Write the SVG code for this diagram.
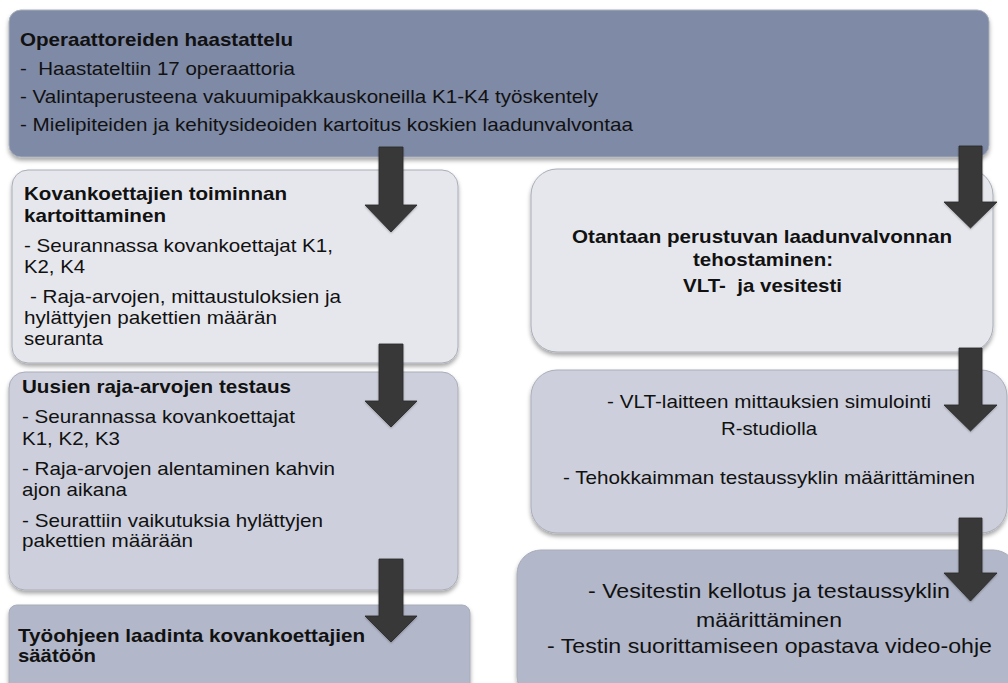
<svg xmlns="http://www.w3.org/2000/svg" width="1008" height="683" viewBox="0 0 1008 683">
<defs>
<filter id="sh" x="-5%" y="-5%" width="110%" height="120%">
<feDropShadow dx="0" dy="3" stdDeviation="2" flood-color="#000" flood-opacity="0.35"/>
</filter>
<filter id="ash" x="-30%" y="-10%" width="160%" height="130%">
<feDropShadow dx="0" dy="1" stdDeviation="1" flood-color="#000" flood-opacity="0.3"/>
</filter>
</defs>
<style>
text{font-family:"Liberation Sans",Arial,sans-serif;fill:#111;white-space:pre}
.t{font-size:19px}
.b{font-weight:bold;font-size:19px}
.big{font-size:21px}
.box{filter:url(#sh);stroke:#a9adb8;stroke-width:1}
.arr{fill:#383838;stroke:#2a2a2a;stroke-width:0.8;filter:url(#ash)}
</style>
<rect width="1008" height="683" fill="#fff"/>

<g id="n-top">
<rect class="box" x="9" y="10" width="980" height="147" rx="12" fill="#7f8aa6" stroke="#6f7894"/>
<text class="b" x="20" y="46" textLength="273" lengthAdjust="spacingAndGlyphs">Operaattoreiden haastattelu</text>
<text class="t" x="20" y="75" textLength="275" lengthAdjust="spacingAndGlyphs">-  Haastateltiin 17 operaattoria</text>
<text class="t" x="20" y="103" textLength="578" lengthAdjust="spacingAndGlyphs">- Valintaperusteena vakuumipakkauskoneilla K1-K4 työskentely</text>
<text class="t" x="20" y="131" textLength="613" lengthAdjust="spacingAndGlyphs">- Mielipiteiden ja kehitysideoiden kartoitus koskien laadunvalvontaa</text>
</g>

<g id="n-l1">
<rect class="box" x="12" y="170" width="446" height="193" rx="16" fill="#e6e7ed"/>
<text class="b" x="24" y="200" textLength="263" lengthAdjust="spacingAndGlyphs">Kovankoettajien toiminnan</text>
<text class="b" x="24" y="222" textLength="142" lengthAdjust="spacingAndGlyphs">kartoittaminen</text>
<text class="t" x="24" y="252" textLength="309" lengthAdjust="spacingAndGlyphs">- Seurannassa kovankoettajat K1,</text>
<text class="t" x="24" y="273" textLength="61" lengthAdjust="spacingAndGlyphs">K2, K4</text>
<text class="t" x="30" y="303" textLength="311" lengthAdjust="spacingAndGlyphs">- Raja-arvojen, mittaustuloksien ja</text>
<text class="t" x="24" y="324" textLength="253" lengthAdjust="spacingAndGlyphs">hylättyjen pakettien määrän</text>
<text class="t" x="24" y="345" textLength="79" lengthAdjust="spacingAndGlyphs">seuranta</text>
</g>

<g id="n-l2">
<rect class="box" x="9" y="372" width="449" height="218" rx="16" fill="#cdd0dc"/>
<text class="b" x="22" y="393" textLength="269" lengthAdjust="spacingAndGlyphs">Uusien raja-arvojen testaus</text>
<text class="t" x="22" y="423" textLength="273" lengthAdjust="spacingAndGlyphs">- Seurannassa kovankoettajat</text>
<text class="t" x="22" y="445" textLength="98" lengthAdjust="spacingAndGlyphs">K1, K2, K3</text>
<text class="t" x="22" y="475" textLength="313" lengthAdjust="spacingAndGlyphs">- Raja-arvojen alentaminen kahvin</text>
<text class="t" x="22" y="496" textLength="105" lengthAdjust="spacingAndGlyphs">ajon aikana</text>
<text class="t" x="22" y="527" textLength="301" lengthAdjust="spacingAndGlyphs">- Seurattiin vaikutuksia hylättyjen</text>
<text class="t" x="22" y="547" textLength="171" lengthAdjust="spacingAndGlyphs">pakettien määrään</text>
</g>

<g id="n-l3">
<rect class="box" x="9" y="605" width="461" height="100" rx="8" fill="#b2b7c9"/>
<text class="b" x="18" y="642" textLength="347" lengthAdjust="spacingAndGlyphs">Työohjeen laadinta kovankoettajien</text>
<text class="b" x="18" y="662" textLength="78" lengthAdjust="spacingAndGlyphs">säätöön</text>
</g>

<g id="n-r1">
<rect class="box" x="531" y="169" width="462" height="183" rx="26" fill="#e6e7ed"/>
<text class="b" x="572" y="243" textLength="380" lengthAdjust="spacingAndGlyphs">Otantaan perustuvan laadunvalvonnan</text>
<text class="b" x="693" y="266" textLength="140" lengthAdjust="spacingAndGlyphs">tehostaminen:</text>
<text class="b" x="683" y="292" textLength="159" lengthAdjust="spacingAndGlyphs">VLT-  ja vesitesti</text>
</g>

<g id="n-r2">
<rect class="box" x="531" y="370" width="476" height="163" rx="26" fill="#cdd0dc"/>
<text class="t" x="607" y="408" textLength="324" lengthAdjust="spacingAndGlyphs">- VLT-laitteen mittauksien simulointi</text>
<text class="t" x="721" y="435" textLength="96" lengthAdjust="spacingAndGlyphs">R-studiolla</text>
<text class="t" x="563" y="484" textLength="412" lengthAdjust="spacingAndGlyphs">- Tehokkaimman testaussyklin määrittäminen</text>
</g>

<g id="n-r3">
<rect class="box" x="517" y="550" width="500" height="150" rx="24" fill="#b2b7c9"/>
<text class="big" x="588" y="598" textLength="362" lengthAdjust="spacingAndGlyphs">- Vesitestin kellotus ja testaussyklin</text>
<text class="big" x="696" y="627" textLength="146" lengthAdjust="spacingAndGlyphs">määrittäminen</text>
<text class="big" x="547" y="653" textLength="445" lengthAdjust="spacingAndGlyphs">- Testin suorittamiseen opastava video-ohje</text>
</g>

<g id="connectors">
<polygon class="arr" points="379,147 403,147 403,205 417,205 391,232 365,205 379,205"/>
<polygon class="arr" points="379,344 403,344 403,401 417,401 391,427 365,401 379,401"/>
<polygon class="arr" points="379,559 403,559 403,616 417,616 391,642 365,616 379,616"/>
<polygon class="arr" points="959,146 982,146 982,202 997,202 970.5,228 944,202 959,202"/>
<polygon class="arr" points="959,348 982,348 982,405 997,405 970.5,431 944,405 959,405"/>
<polygon class="arr" points="959,518 982,518 982,573 997,573 970.5,601 944,573 959,573"/>
</g>
</svg>
